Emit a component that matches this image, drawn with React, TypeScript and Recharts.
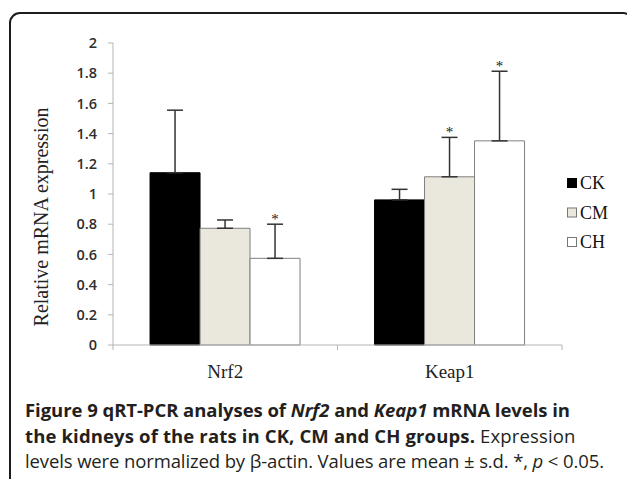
import { BarChart, Bar, XAxis, YAxis, ErrorBar, LabelList } from 'recharts';

const genes = ['Nrf2', 'Keap1'];
const groups = ['CK', 'CM', 'CH'];
const ckMean = [1.141, 0.961];
const ckSd = [0.414, 0.07];
const cmMean = [0.773, 1.114];
const cmSd = [0.055, 0.261];
const chMean = [0.574, 1.352];
const chSd = [0.226, 0.461];
const ckSig = [false, false];
const cmSig = [false, true];
const chSig = [true, true];
const yTicks = [0, 0.2, 0.4, 0.6, 0.8, 1, 1.2, 1.4, 1.6, 1.8, 2];

const means = [ckMean, cmMean, chMean];
const sds = [ckSd, cmSd, chSd];
const sigs = [ckSig, cmSig, chSig];
const keys = ['ck', 'cm', 'ch'];

const barStyles = [
  { fill: '#000000', stroke: '#000000' },
  { fill: '#eae8dc', stroke: '#7f7f7f' },
  { fill: '#ffffff', stroke: '#7f7f7f' },
];

const data = genes.map((name, i) => {
  const row: Record<string, any> = { name };
  keys.forEach((k, s) => {
    row[k] = means[s][i];
    row[k + 'Err'] = [0, sds[s][i]];
  });
  return row;
});

const AXIS = '#b5b5b5';
const SERIF = '"Liberation Serif", "Times New Roman", serif';
const SANS = '"Open Sans", "Noto Sans", sans-serif';
const LABEL_GAP = 20;

function starLabel(s: number) {
  return (props: any) => {
    const vb = props.viewBox || {};
    const x = props.x ?? vb.x;
    const y = props.y ?? vb.y;
    const width = props.width ?? vb.width;
    const height = props.height ?? vb.height;
    const index = props.index;
    if (!sigs[s][index]) return null;
    const perUnit = height / means[s][index];
    const capY = y - sds[s][index] * perUnit;
    return (
      <text x={x + width / 2} y={capY - 0.5} textAnchor="middle" fontFamily={SERIF} fontSize={15} fill="#1a1a1a">
        *
      </text>
    );
  };
}

function YLabel(props: any) {
  const vb = props.viewBox;
  const cx = 41;
  const cy = vb.y + vb.height / 2 + 23;
  return (
    <text
      x={cx}
      y={cy}
      transform={`rotate(-90 ${cx} ${cy})`}
      textAnchor="middle"
      dominantBaseline="central"
      fontFamily={SERIF}
      fontSize={20}
      fill="#222"
    >
      Relative mRNA expression
    </text>
  );
}

// category label plus a small tick at each band edge
function GeneTick(props: any) {
  const { x, y, payload, index } = props;
  const half = payload?.offset ?? 0;
  const axisY = y - LABEL_GAP;
  return (
    <g>
      <line x1={x - half} x2={x - half} y1={axisY} y2={axisY + 5} stroke={AXIS} />
      {index === genes.length - 1 && (
        <line x1={x + half} x2={x + half} y1={axisY} y2={axisY + 5} stroke={AXIS} />
      )}
      <text x={x} y={y} dy="0.71em" textAnchor="middle" fontFamily={SERIF} fontSize={19} fill="#222">
        {payload.value}
      </text>
    </g>
  );
}

const captionLine = { whiteSpace: 'nowrap' as const, position: 'absolute' as const, left: 25 };

export default function App() {
  return (
    <div style={{ position: 'relative', width: 627, height: 479, overflow: 'hidden', background: '#fff' }}>
      <style>{'body{margin:0}'}</style>
      <div
        style={{
          position: 'absolute',
          left: 9,
          top: 12,
          width: 625,
          height: 520,
          border: '2px solid #1c1c1c',
          borderTopLeftRadius: 11,
          borderTopRightRadius: 11,
          boxSizing: 'border-box',
        }}
      />
      <div style={{ position: 'absolute', left: 0, top: 0 }}>
        <BarChart
          width={627}
          height={400}
          data={data}
          margin={{ top: 43, right: 65, bottom: 15, left: 53 }}
          barCategoryGap="16.5%"
          barGap={0}
        >
          <YAxis
            domain={[0, 2]}
            ticks={yTicks}
            width={60}
            axisLine={{ stroke: AXIS }}
            tickLine={{ stroke: AXIS }}
            tickSize={5}
            tickMargin={11}
            tick={{ fontFamily: SANS, fontSize: 14.5, fontWeight: 600, fill: '#2e2e2e' }}
            label={<YLabel />}
          />
          <XAxis
            dataKey="name"
            height={40}
            axisLine={{ stroke: AXIS }}
            tickLine={false}
            tickSize={0}
            tickMargin={LABEL_GAP}
            tick={<GeneTick />}
          />
          {keys.map((k, s) => (
            <Bar
              key={k}
              dataKey={k}
              name={groups[s]}
              fill={barStyles[s].fill}
              stroke={barStyles[s].stroke}
              strokeWidth={1}
              isAnimationActive={false}
            >
              <ErrorBar dataKey={k + 'Err'} width={8} stroke="#333" strokeWidth={1.5} direction="y" />
              <LabelList dataKey={k} content={starLabel(s)} />
            </Bar>
          ))}
        </BarChart>
      </div>
      <svg style={{ position: 'absolute', left: 560, top: 170 }} width={60} height={90}>
        {groups.map((g, s) => (
          <g key={g}>
            <rect
              x={7.5}
              y={8.5 + s * 29.5}
              width={9}
              height={9}
              fill={barStyles[s].fill}
              stroke={s === 0 ? '#000' : '#777'}
              strokeWidth={1}
            />
            <text x={20} y={19 + s * 29.5} fontFamily={SERIF} fontSize={18} fill="#111">
              {g}
            </text>
          </g>
        ))}
      </svg>
      <div style={{ position: 'absolute', left: 0, top: 0, fontFamily: SANS, fontSize: 18.5, color: '#231f20', lineHeight: '20px' }}>
        <div style={{ ...captionLine, top: 400, fontWeight: 700, letterSpacing: -0.05 }}>
          Figure 9 qRT-PCR analyses of <i>Nrf2</i> and <i>Keap1</i> mRNA levels in
        </div>
        <div style={{ ...captionLine, top: 426, letterSpacing: 0.14 }}>
          <b>the kidneys of the rats in CK, CM and CH groups.</b> Expression
        </div>
        <div style={{ ...captionLine, top: 451, letterSpacing: -0.12 }}>
          levels were normalized by β-actin. Values are mean ± s.d. *, <i>p</i> &lt; 0.05.
        </div>
      </div>
    </div>
  );
}
